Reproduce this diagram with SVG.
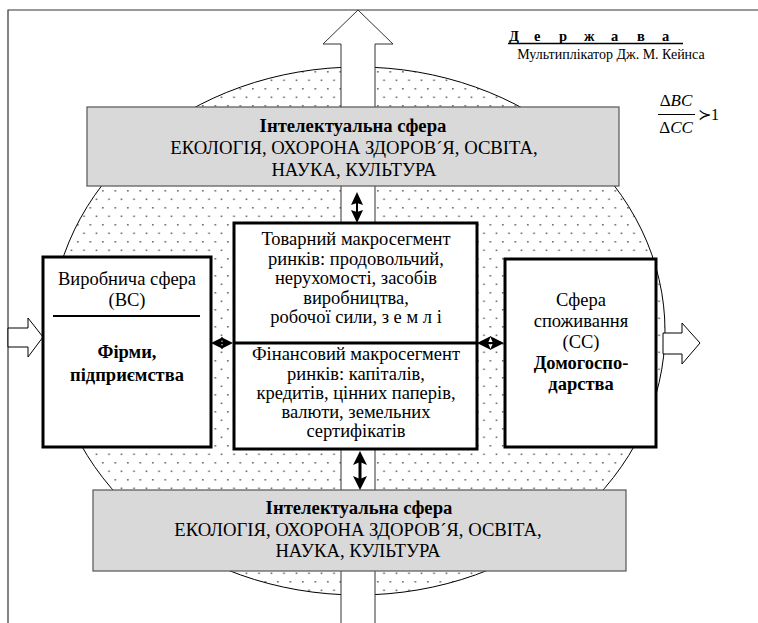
<svg xmlns="http://www.w3.org/2000/svg" width="758" height="623" viewBox="0 0 758 623" font-family="'Liberation Serif', 'DejaVu Serif', serif">
<style>
text{font-family:'Liberation Serif','DejaVu Serif',serif;fill:#000}
.t{font-size:18.5px;text-anchor:middle}
.g{font-size:18.7px;text-anchor:middle}
.b{font-weight:bold}
.gray{fill:#d9d9d9;stroke:#555;stroke-width:1.2}
.box{fill:#fff;stroke:#000;stroke-width:3}
.hollow{fill:#fff;stroke:#000;stroke-width:1}
.head{fill:#000;stroke:none}
</style>
<defs>
<pattern id="dots" x="0" y="0" width="12.5" height="17" patternUnits="userSpaceOnUse">
<rect x="2" y="3" width="1.6" height="1.6" fill="#666"/>
<rect x="8.25" y="11.5" width="1.6" height="1.6" fill="#666"/>
</pattern>
</defs>
<rect width="758" height="623" fill="#fff"/>
<g id="frame">
<path d="M8,623 V10 H758" fill="none" stroke="#333" stroke-width="1.2"/>
</g>
<g id="market-field">
<ellipse cx="358" cy="331" rx="307" ry="264" fill="url(#dots)" stroke="#000" stroke-width="1"/>
</g>
<g id="state-arrow">
<polygon points="358,10 393,44 375,44 375,630 341,630 341,44 323,44" fill="#fff" stroke="#333" stroke-width="1"/>
</g>
<g id="state">
<text x="509" y="41" style="font-size:14.5px;font-weight:bold"><tspan x="509">Д</tspan><tspan x="534">е</tspan><tspan x="559">р</tspan><tspan x="584">ж</tspan><tspan x="611">а</tspan><tspan x="637">в</tspan><tspan x="662">а</tspan></text>
<line x1="508" y1="43.5" x2="683" y2="43.5" stroke="#000" stroke-width="1.3"/>
<text x="611" y="59" style="font-size:14px;text-anchor:middle">Мультиплікатор Дж. М. Кейнса</text>
</g>
<g id="formula">
<text x="676" y="106" style="font-size:17px;text-anchor:middle">Δ<tspan font-style="italic">BC</tspan></text>
<line x1="658" y1="114.5" x2="695" y2="114.5" stroke="#000" stroke-width="1"/>
<text x="676" y="133" style="font-size:17px;text-anchor:middle">Δ<tspan font-style="italic">CC</tspan></text>
<text x="698" y="120" style="font-size:16px">≻1</text>
</g>
<g id="intellect-top">
<rect class="gray" x="87" y="107" width="532" height="79"/>
<text class="g b" x="353" y="132">Інтелектуальна сфера</text>
<text class="g" x="354" y="154">ЕКОЛОГІЯ, ОХОРОНА ЗДОРОВ´Я, ОСВІТА,</text>
<text class="g" x="354" y="176">НАУКА, КУЛЬТУРА</text>
</g>
<g id="intellect-bottom">
<rect class="gray" x="93" y="490" width="533" height="81"/>
<text class="g b" x="359" y="514">Інтелектуальна сфера</text>
<text class="g" x="358" y="536">ЕКОЛОГІЯ, ОХОРОНА ЗДОРОВ´Я, ОСВІТА,</text>
<text class="g" x="358" y="557">НАУКА, КУЛЬТУРА</text>
</g>
<g id="input-arrow">
<polygon class="hollow" points="8,328 28,328 28,318 43,337 28,357 28,347 8,347"/>
</g>
<g id="output-arrow">
<polygon class="hollow" points="663,333 682,333 682,323 700,343 682,364 682,354 663,354"/>
</g>
<g id="production">
<rect class="box" x="43" y="257" width="168" height="190"/>
<text class="t" x="127" y="285">Виробнича сфера</text>
<text class="t" x="127" y="306">(ВС)</text>
<line x1="53" y1="316" x2="200" y2="316" stroke="#000" stroke-width="2"/>
<text class="t b" x="127" y="358">Фірми,</text>
<text class="t b" x="127" y="381">підприємства</text>
</g>
<g id="markets">
<rect class="box" x="234" y="223" width="243" height="226"/>
<line x1="234" y1="343" x2="477" y2="343" stroke="#000" stroke-width="3"/>
<text class="t" x="356" y="245">Товарний макросегмент</text>
<text class="t" x="356" y="264.5">ринків: продовольчий,</text>
<text class="t" x="356" y="284">нерухомості, засобів</text>
<text class="t" x="356" y="303.5">виробництва,</text>
<text class="t" x="356" y="323">робочої сили, з е м л і</text>
<text class="t" x="356" y="360">Фінансовий макросегмент</text>
<text class="t" x="356" y="379.5">ринків: капіталів,</text>
<text class="t" x="356" y="399">кредитів, цінних паперів,</text>
<text class="t" x="356" y="418">валюти, земельних</text>
<text class="t" x="356" y="437">сертифікатів</text>
</g>
<g id="consumption">
<rect class="box" x="505" y="259" width="151" height="188"/>
<text class="t" x="581" y="306">Сфера</text>
<text class="t" x="581" y="327">споживання</text>
<text class="t" x="581" y="348">(СС)</text>
<text class="t b" x="581" y="369">Домогоспо-</text>
<text class="t b" x="581" y="390">дарства</text>
</g>
<g id="connectors">
<line x1="357" y1="200" x2="357" y2="215" stroke="#000" stroke-width="2"/>
<polygon class="head" points="357,192 363,205 357,203 351,205"/>
<polygon class="head" points="357,223 363,210 357,212 351,210"/>
<line x1="360" y1="460" x2="360" y2="481" stroke="#000" stroke-width="3"/>
<polygon class="head" points="360,451 367,465 360,462 353,465"/>
<polygon class="head" points="360,490 367,476 360,479 353,476"/>
<line x1="218" y1="343" x2="226" y2="343" stroke="#000" stroke-width="2"/>
<polygon class="head" points="211,343 223,337 221,343 223,349"/>
<polygon class="head" points="233,343 221,337 223,343 221,349"/>
<line x1="484" y1="343" x2="496" y2="343" stroke="#000" stroke-width="2"/>
<polygon class="head" points="477,343 491,336 488,343 491,350"/>
<polygon class="head" points="504,343 490,336 493,343 490,350"/>
</g>
</svg>
